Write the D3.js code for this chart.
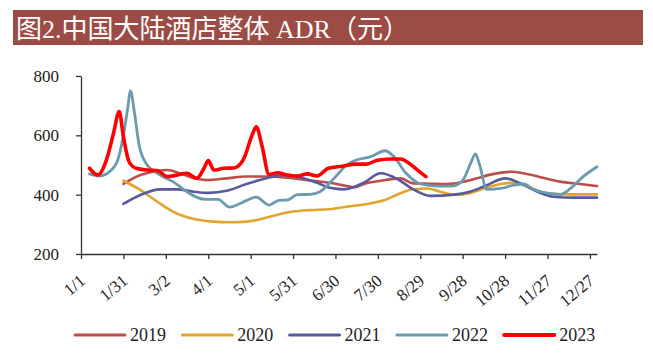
<!DOCTYPE html>
<html>
<head>
<meta charset="utf-8">
<script src="https://cdn.jsdelivr.net/npm/d3@7"></script>
<style>
  body { margin: 0; background: #fff; }
</style>
</head>
<body>
<svg id="chart" width="653" height="361"></svg>
<script>
// day of year (0 = 1/1) and ADR values
const tickDays = [0, 30, 60, 90, 120, 150, 180, 210, 240, 270, 300, 330, 360];
const tickLabels = ["1/1", "1/31", "3/2", "4/1", "5/1", "5/31", "6/30", "7/30", "8/29", "9/28", "10/28", "11/27", "12/27"];
const yTicks = [200, 400, 600, 800];
const years = ["2019", "2020", "2021", "2022", "2023"];

const days2019 = [30, 42, 54, 61, 70, 80, 89, 103, 117, 131, 146, 160, 176, 187, 194, 200, 212, 226, 235, 247, 259, 271, 280, 292, 304, 313, 325, 339, 353, 365];
const adr2019  = [436, 466, 480, 483, 472, 455, 449, 455, 461, 461, 457, 449, 440, 430, 425, 436, 447, 455, 438, 437, 436, 444, 455, 470, 477, 472, 459, 444, 436, 429];

const days2020 = [30, 42, 54, 65, 80, 94, 106, 117, 129, 141, 150, 162, 176, 188, 207, 216, 226, 235, 245, 254, 266, 275, 285, 297, 306, 316, 327, 339, 365];
const adr2020  = [447, 416, 376, 343, 318, 309, 307, 309, 320, 335, 343, 348, 351, 359, 373, 384, 405, 418, 421, 410, 399, 405, 421, 436, 440, 427, 407, 401, 401];

const days2021 = [30, 42, 56, 68, 80, 90, 103, 117, 131, 143, 155, 167, 176, 186, 200, 212, 224, 235, 247, 264, 275, 287, 300, 311, 323, 334, 349, 365];
const adr2021  = [369, 399, 418, 418, 410, 406, 413, 436, 455, 466, 458, 440, 423, 418, 440, 472, 452, 418, 396, 400, 410, 432, 455, 438, 410, 393, 390, 390];

const days2022 = [6, 13, 20, 26, 30, 33, 35, 38, 41, 46, 56, 65, 75, 82, 89, 97, 105, 113, 124, 133, 140, 146, 153, 162, 169, 176, 180, 188, 195, 205, 215, 221, 230, 240, 252, 263, 270, 276, 279, 282, 287, 297, 306, 313, 320, 330, 339, 346, 355, 365];
const adr2022  = [470, 463, 477, 517, 600, 690, 750, 670, 570, 506, 466, 444, 410, 391, 384, 384, 358, 371, 392, 365, 381, 382, 400, 401, 410, 440, 460, 500, 517, 528, 548, 530, 472, 436, 429, 429, 448, 510, 537, 500, 418, 421, 432, 436, 418, 405, 401, 420, 460, 494];

const days2023 = [6, 12, 18, 23, 27, 30, 34, 39, 47, 54, 61, 68, 75, 82, 87, 90, 94, 101, 108, 115, 121, 124, 128, 133, 139, 146, 153, 160, 167, 175, 185, 195, 202, 209, 219, 226, 232, 238, 244];
const adr2023  = [489, 466, 517, 607, 680, 595, 511, 489, 483, 481, 461, 466, 472, 455, 489, 515, 483, 489, 490, 520, 600, 629, 565, 468, 474, 466, 463, 470, 463, 489, 496, 503, 503, 515, 520, 520, 506, 483, 461];

const colors = ["#bc4f4c", "#e2a42e", "#575a9c", "#6b9bad", "#ff0000"];
const widths = [2.6, 2.6, 2.6, 2.8, 3.6];

const seriesDays = [days2019, days2020, days2021, days2022, days2023];
const seriesAdr = [adr2019, adr2020, adr2021, adr2022, adr2023];

const serif = '"Liberation Serif", "Times New Roman", "DejaVu Serif", serif';
const titleFont = '"Liberation Serif", "Noto Sans CJK SC", serif';

const svg = d3.select("#chart");

// title bar
svg.append("rect")
    .attr("x", 13).attr("y", 10)
    .attr("width", 630).attr("height", 35)
    .attr("fill", "#9d4b45");
svg.append("text")
    .attr("x", 16).attr("y", 38)
    .attr("fill", "#fff")
    .style("font-family", titleFont)
    .style("font-size", "26px")
    .text("图2.中国大陆酒店整体 ADR（元）");

const x = d3.scaleLinear().domain([0, 365]).range([81, 597]);
const y = d3.scaleLinear().domain([200, 800]).range([254, 76]);

// y axis
const yAxis = svg.append("g")
    .attr("transform", "translate(81,0)")
    .call(d3.axisLeft(y).tickValues(yTicks).tickSize(5).tickSizeOuter(0).tickPadding(17));
yAxis.selectAll("text")
    .style("font-family", serif)
    .style("font-size", "17px")
    .attr("fill", "#222");

// x axis
const xAxis = svg.append("g")
    .attr("transform", "translate(0,254)")
    .call(d3.axisBottom(x).tickValues(tickDays).tickSize(5).tickSizeOuter(0).tickFormat((d, i) => tickLabels[i]));
xAxis.selectAll("text")
    .style("font-family", serif)
    .style("font-size", "17px")
    .attr("fill", "#222")
    .attr("text-anchor", "end")
    .attr("y", 0).attr("dy", "0.35em")
    .attr("transform", "translate(1,24) rotate(-40)");
svg.selectAll(".domain, .tick line").attr("stroke", "#333").attr("stroke-width", 1.3);

// lines
const line = d3.line().curve(d3.curveMonotoneX);
years.forEach((yr, i) => {
    const pts = seriesDays[i].map((d, j) => [x(d), y(seriesAdr[i][j])]);
    svg.append("path")
        .attr("d", line(pts))
        .attr("fill", "none")
        .attr("stroke", colors[i])
        .attr("stroke-width", widths[i])
        .attr("stroke-linejoin", "round")
        .attr("stroke-linecap", "round");
});

// legend
const legend = svg.append("g").attr("transform", "translate(0,335)");
years.forEach((yr, i) => {
    const lx = 75 + i * 107.3;
    legend.append("line")
        .attr("x1", lx).attr("x2", lx + 50)
        .attr("y1", 0).attr("y2", 0)
        .attr("stroke", colors[i])
        .attr("stroke-width", i === 4 ? 4 : 3)
        .attr("stroke-linecap", "round");
    legend.append("text")
        .attr("x", lx + 55).attr("y", 6)
        .style("font-family", serif)
        .style("font-size", "18px")
        .attr("fill", "#222")
        .text(yr);
});
</script>
</body>
</html>
